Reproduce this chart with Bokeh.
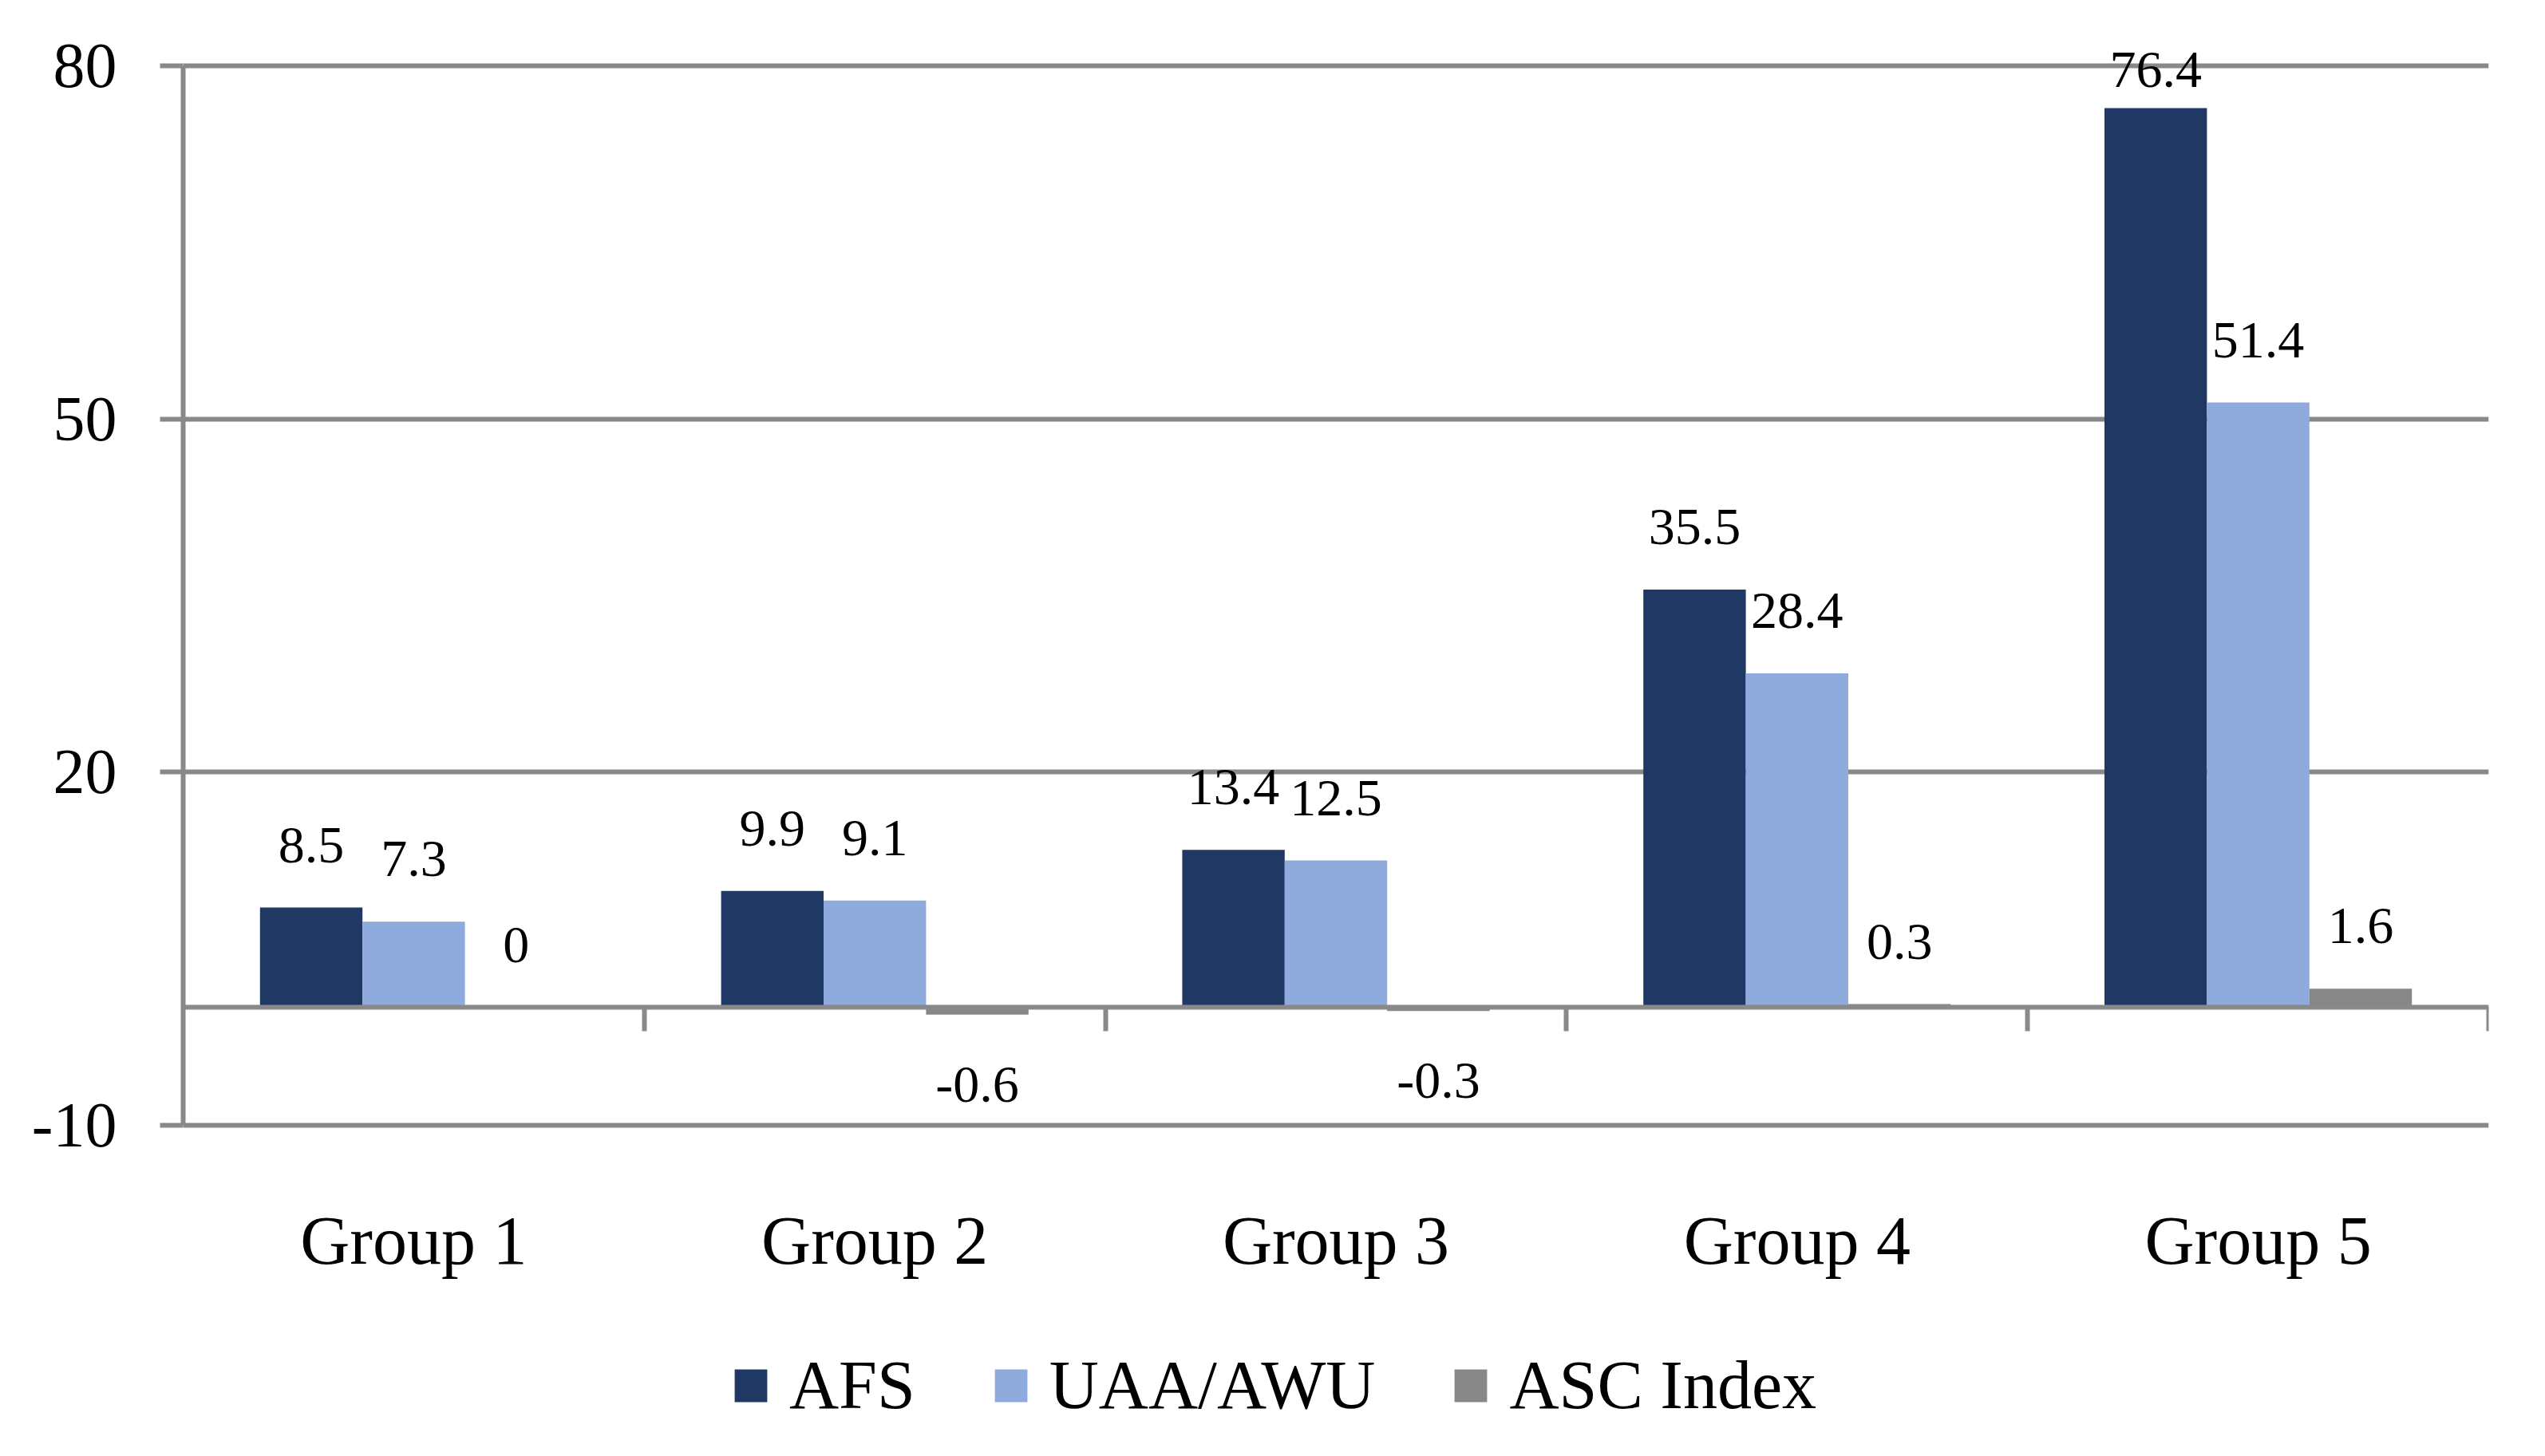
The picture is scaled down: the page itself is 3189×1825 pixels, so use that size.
from bokeh.plotting import figure
from bokeh.models import (Range1d, FixedTicker, LinearAxis, Legend, LegendItem,
                          ColumnDataSource, LabelSet)
from bokeh.embed import file_html
from bokeh.resources import INLINE

# ---- data ----
groups = ["Group 1", "Group 2", "Group 3", "Group 4", "Group 5"]
series = ["AFS", "UAA/AWU", "ASC Index"]
afs = [8.5, 9.9, 13.4, 35.5, 76.4]
uaa_awu = [7.3, 9.1, 12.5, 28.4, 51.4]
asc_index = [0, -0.6, -0.3, 0.3, 1.6]
y_ticks = [-10, 20, 50, 80]
y_tick_labels = ["-10", "20", "50", "80"]
colors = ["#203864", "#8FAADC", "#878787"]

# ---- layout (pixels) ----
W, H = 3173, 1805
FONT = "Liberation Serif"
GRID = "#898989"
LW = 6
AX_LEFT, AX_RIGHT = 229, 3118        # y axis line / right end of plot
AX_TOP, AX_BOTTOM = 82, 1410         # pixel rows of the top and bottom tick
FRAME_TOP, FRAME_BOTTOM = 20, 1795   # frame extended to hold labels and legend
LABEL_GAP = 57                       # px between bar end and label baseline
MIN_LABEL_BASELINE = 108             # labels are kept inside the chart area
unit = (AX_BOTTOM - AX_TOP) / (y_ticks[-1] - y_ticks[0])
y_hi = y_ticks[-1] + (AX_TOP - FRAME_TOP) / unit
y_lo = y_ticks[0] - (FRAME_BOTTOM - AX_BOTTOM) / unit
label_cap = y_ticks[-1] - (MIN_LABEL_BASELINE + LABEL_GAP - AX_TOP) / unit

p = figure(width=W, height=H, output_backend="svg", toolbar_location=None,
           x_range=Range1d(0, len(groups)), y_range=Range1d(y_lo, y_hi),
           min_border_left=AX_LEFT, min_border_right=W - AX_RIGHT,
           min_border_top=FRAME_TOP, min_border_bottom=H - FRAME_BOTTOM)
p.outline_line_color = None
p.xgrid.visible = False
p.ygrid.ticker = FixedTicker(ticks=y_ticks)
p.ygrid.grid_line_color = GRID
p.ygrid.grid_line_width = LW

# y axis
ya = p.yaxis[0]
ya.bounds = (y_ticks[0], y_ticks[-1])
ya.ticker = FixedTicker(ticks=y_ticks)
ya.major_label_overrides = {t: l for t, l in zip(y_ticks, y_tick_labels)}
ya.axis_line_color = GRID
ya.axis_line_width = LW
ya.major_tick_line_color = GRID
ya.major_tick_line_width = LW
ya.major_tick_in = 0
ya.major_tick_out = 29
ya.minor_tick_line_color = None
ya.major_label_standoff = 54
ya.major_label_text_font = FONT
ya.major_label_text_font_size = "80px"
ya.major_label_text_color = "black"

# category labels axis (hangs under the bottom tick line)
xa = p.xaxis[0]
xa.fixed_location = y_ticks[0]
centers = [i + 0.5 for i in range(len(groups))]
xa.ticker = FixedTicker(ticks=centers)
xa.major_label_overrides = {c: g for c, g in zip(centers, groups)}
xa.axis_line_color = None
xa.major_tick_line_color = None
xa.minor_tick_line_color = None
xa.major_label_standoff = 90
xa.major_label_text_font = FONT
xa.major_label_text_font_size = "86px"
xa.major_label_text_color = "black"

# zero line axis with category separators
zero_axis = LinearAxis(fixed_location=0,
                       ticker=FixedTicker(ticks=list(range(1, len(groups) + 1))),
                       axis_line_color=GRID, axis_line_width=LW,
                       major_tick_line_color=GRID, major_tick_line_width=LW,
                       major_tick_in=0, major_tick_out=30,
                       minor_tick_line_color=None,
                       major_label_text_color=None)
p.add_layout(zero_axis, "below")

# bars
gap = 1.5
bw = 1.0 / (len(series) + gap)
renderers = []
for k, (name, vals, col) in enumerate(zip(series, [afs, uaa_awu, asc_index], colors)):
    xs = [i + 0.5 + (k - 1) * bw for i in range(len(groups))]
    src = ColumnDataSource(dict(x=xs, top=vals))
    r = p.vbar(x="x", top="top", bottom=0, width=bw, source=src,
               fill_color=col, line_color=None)
    renderers.append(r)
    pos = [(x, v) for x, v in zip(xs, vals) if v >= 0]
    neg = [(x, v) for x, v in zip(xs, vals) if v < 0]
    for subset, off in ((pos, LABEL_GAP), (neg, -109)):
        if not subset:
            continue
        lsrc = ColumnDataSource(dict(x=[a for a, _ in subset],
                                     y=[min(b, label_cap) for _, b in subset],
                                     t=[f"{b:g}" for _, b in subset]))
        p.add_layout(LabelSet(x="x", y="y", text="t", source=lsrc, y_offset=off,
                              text_align="center", text_baseline="alphabetic",
                              text_font=FONT, text_font_size="66px", text_color="black"))

legend = Legend(items=[LegendItem(label=s, renderers=[r]) for s, r in zip(series, renderers)],
                orientation="horizontal", location=(915 - AX_LEFT, FRAME_BOTTOM - 1786),
                padding=0, margin=0, spacing=94, glyph_width=51, glyph_height=51,
                label_standoff=23, label_text_font=FONT, label_text_font_size="86px",
                label_text_color="black",
                border_line_color=None, background_fill_alpha=0)
p.add_layout(legend)

open("out.html", "w").write(file_html(p, INLINE))
